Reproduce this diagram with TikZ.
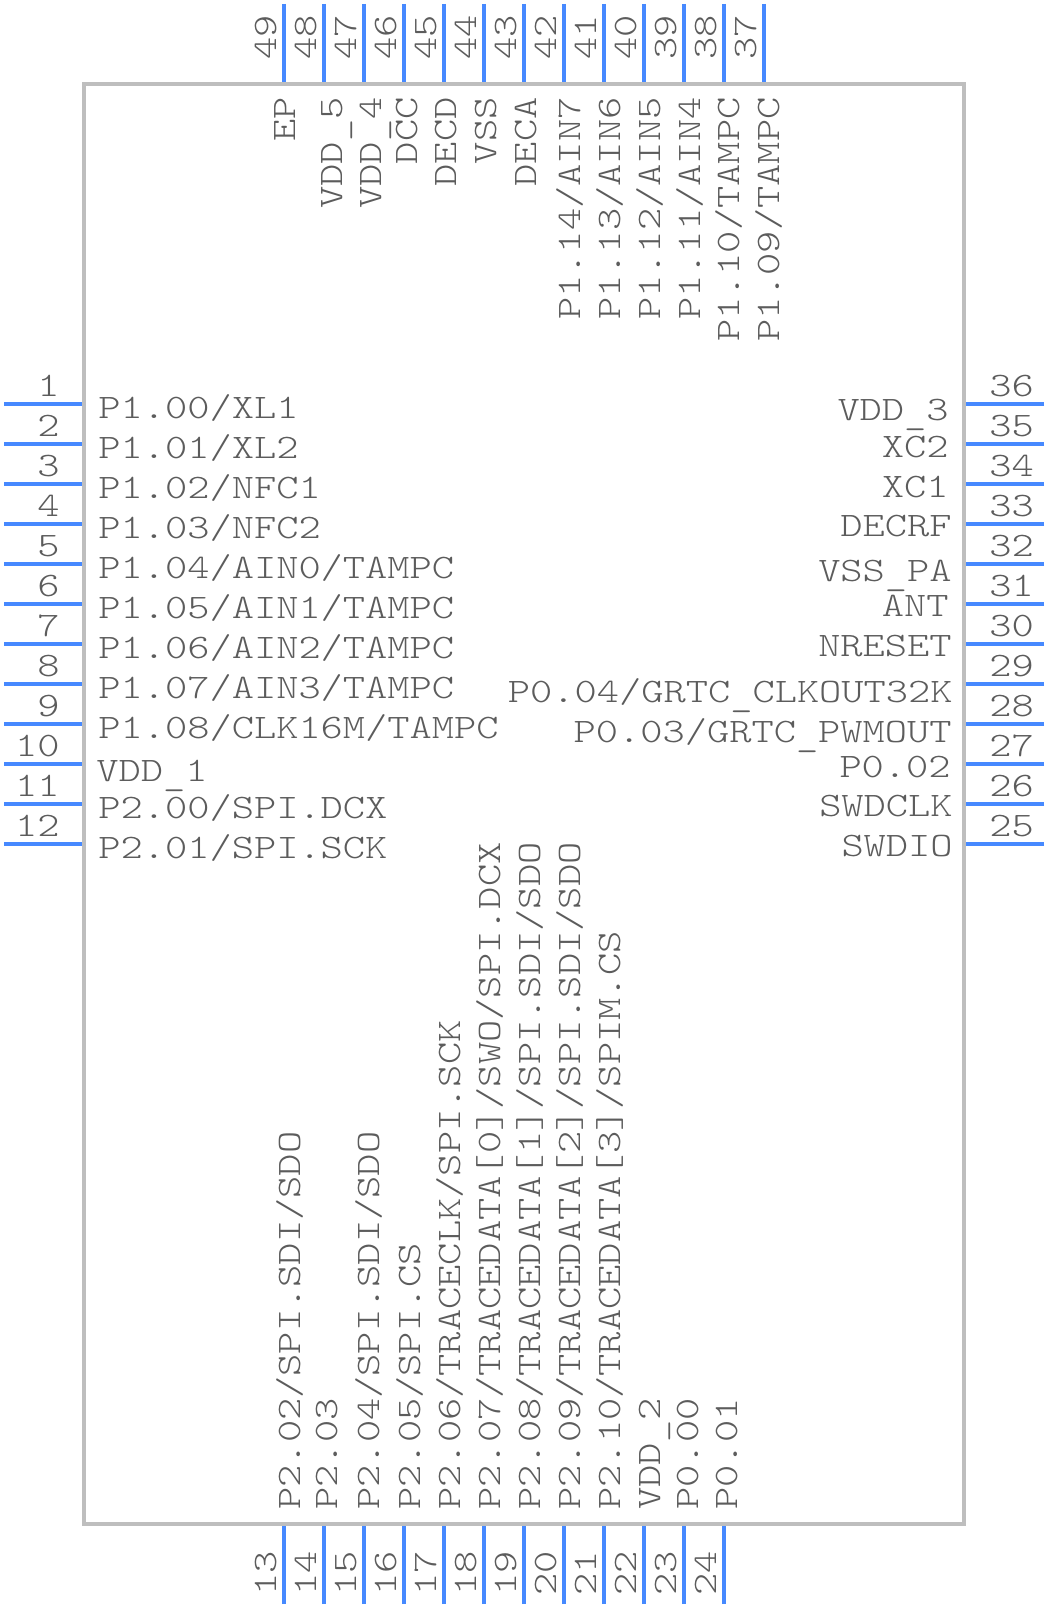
\documentclass[tikz,border=0pt]{standalone}
\usepackage{fontspec}
\newfontfamily\pinfont[FakeStretch=1.235]{Latin Modern Mono Light}
\definecolor{pinblue}{HTML}{4689FF}
\definecolor{bodygray}{HTML}{BEBEBE}
\definecolor{textgray}{HTML}{5C5C5C}
\newcommand{\bajo}{\raisebox{-0.14em}{\_}}
\begin{document}
\begin{tikzpicture}[
        x=0.025cm, y=-0.025cm,
        every node/.style={font=\pinfont\fontsize{24.4pt}{26pt}\selectfont, text=textgray, inner sep=0pt},
        cuerpo/.style={draw=bodygray, line width=0.1cm, minimum width=22cm, minimum height=36cm},
        patilla/.style={draw=pinblue, line width=0.1cm}
    ]
    \useasboundingbox (0,0) rectangle (1048,1608);

    % Cuerpo
    \node[cuerpo] (cuerpo) at (524,804) {};

    % Patillas izquierda
    \foreach \n in {1,...,12} {
        \coordinate (pin\n) at (4,364+40*\n);
        \draw[patilla] (pin\n) -- (pin\n -| cuerpo.west);
        \node[anchor=base east] (num\n) at (60,356+40*\n) {\n};
    }

    % Patillas derecha
    \foreach \n in {25,...,36} {
        \coordinate (pin\n) at (1044,1844-40*\n);
        \draw[patilla] (pin\n) -- (pin\n -| cuerpo.east);
        \node[anchor=base west] (num\n) at (989,1836-40*\n) {\n};
    }

    % Patillas abajo
    \foreach \n in {13,...,24} {
        \coordinate (pin\n) at (40*\n-236,1604);
        \draw[patilla] (pin\n) -- (pin\n |- cuerpo.south);
        \node[rotate=90, anchor=base west] (num\n) at (40*\n-244,1596) {\n};
    }

    % Patillas arriba
    \foreach \n in {37,...,49} {
        \coordinate (pin\n) at (2244-40*\n,4);
        \draw[patilla] (pin\n) -- (pin\n |- cuerpo.north);
        \node[rotate=90, anchor=base west] (num\n) at (2236-40*\n,60) {\n};
    }

    % Nombres izquierda
    \foreach \n/\x/\y/\txt in {
        1/98/418.5/{P1.00/XL1}, 2/98/458.5/{P1.01/XL2}, 3/98/498.5/{P1.02/NFC1},
        4/98/538.5/{P1.03/NFC2}, 5/98/578.5/{P1.04/AIN0/TAMPC}, 6/98/618.5/{P1.05/AIN1/TAMPC},
        7/98/658.5/{P1.06/AIN2/TAMPC}, 8/98/698.5/{P1.07/AIN3/TAMPC}, 9/98/738.5/{P1.08/CLK16M/TAMPC},
        10/96/781/{VDD\bajo1}, 11/98/818.5/{P2.00/SPI.DCX}, 12/98/858.5/{P2.01/SPI.SCK}} {
        \node[anchor=base west] (nom\n) at (\x,\y) {\txt};
    }

    % Nombres derecha
    \foreach \n/\x/\y/\txt in {
        36/949/420/{VDD\bajo3}, 35/949/457/{XC2}, 34/949/497/{XC1}, 33/952/536/{DECRF},
        32/952/581/{VSS\bajo PA}, 31/949/616/{ANT}, 30/952/656/{NRESET},
        29/953/702/{P0.04/GRTC\bajo CLKOUT32K}, 28/952/742/{P0.03/GRTC\bajo PWMOUT},
        27/951/777/{P0.02}, 26/953/816/{SWDCLK}, 25/953/856/{SWDIO}} {
        \node[anchor=base east] (nom\n) at (\x,\y) {\txt};
    }

    % Nombres abajo
    \foreach \n/\x/\txt in {
        13/300/{P2.02/SPI.SDI/SDO}, 14/337/{P2.03}, 15/379/{P2.04/SPI.SDI/SDO},
        16/420/{P2.05/SPI.CS}, 17/460/{P2.06/TRACECLK/SPI.SCK},
        18/500/{P2.07/TRACEDATA[0]/SWO/SPI.DCX}, 19/540/{P2.08/TRACEDATA[1]/SPI.SDI/SDO},
        20/580/{P2.09/TRACEDATA[2]/SPI.SDI/SDO}, 21/620/{P2.10/TRACEDATA[3]/SPIM.CS},
        22/660/{VDD\bajo2}, 23/698/{P0.00}, 24/737/{P0.01}} {
        \node[rotate=90, anchor=base west] (nom\n) at (\x,1510) {\txt};
    }

    % Nombres arriba
    \foreach \n/\x/\txt in {
        49/295/{EP}, 48/342/{VDD\bajo5}, 47/381/{VDD\bajo4}, 46/417/{DCC}, 45/456/{DECD},
        44/496/{VSS}, 43/536/{DECA}, 42/580/{P1.14/AIN7}, 41/620/{P1.13/AIN6},
        40/660/{P1.12/AIN5}, 39/700/{P1.11/AIN4}, 38/739/{P1.10/TAMPC}, 37/779/{P1.09/TAMPC}} {
        \node[rotate=90, anchor=base east] (nom\n) at (\x,97) {\txt};
    }
\end{tikzpicture}
\end{document}
